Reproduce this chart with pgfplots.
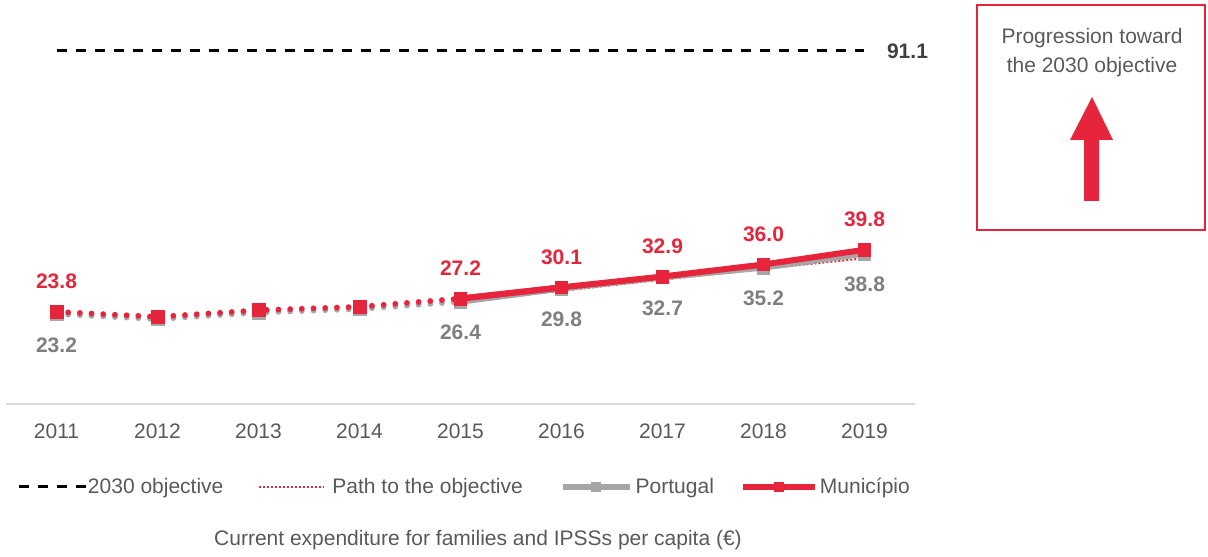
\documentclass[border=0pt]{standalone}
\usepackage{pgfplots}
\pgfplotsset{compat=1.18}
\usepackage{fontspec}
\setmainfont{Liberation Sans}
\definecolor{mred}{RGB}{230,36,60}
\definecolor{pgray}{RGB}{166,166,166}
\definecolor{lgray}{RGB}{127,127,127}
\definecolor{tgray}{RGB}{89,89,89}
\definecolor{dgray}{RGB}{64,64,64}
\newcommand{\fs}{\fontsize{10.5}{12.6}\selectfont}
\begin{document}
\begin{tikzpicture}
\begin{scope}[x=0.5pt,y=-0.5pt,yshift=278pt]
\useasboundingbox (0,0) rectangle (1208,556);
\draw[mred, line width=0.75pt] (977,5) rectangle (1205,230);
\node[text=tgray, font=\fontsize{10.5}{14.5}\selectfont, align=center] at (1092,53) {Progression toward\\the 2030 objective};
\fill[mred] (1092,97) -- (1113,140) -- (1099,140) -- (1099,201) -- (1084,201) -- (1084,140) -- (1070,140) -- cycle;
\node[text=tgray, font=\fs] at (478,540) {Current expenditure for families and IPSSs per capita (€)};
\end{scope}
\begin{axis}[
  at={(3pt,76pt)}, anchor=south west,
  scale only axis, width=454.5pt, height=193.75pt,
  xmin=2010.5, xmax=2019.5, ymin=0, ymax=100,
  enlargelimits=false, clip=false,
  axis x line=bottom, axis y line=none,
  x axis line style={-, draw=gray!30, line width=1pt},
  xtick={2011,2012,2013,2014,2015,2016,2017,2018,2019},
  xticklabels={2011,2012,2013,2014,2015,2016,2017,2018,2019},
  major tick length=0pt, xtick style={draw=none},
  xticklabel style={font=\fs, text=tgray, yshift=-6.5pt},
  legend columns=4,
  legend style={at={(axis description cs:0.0132,-0.214)}, anchor=west,
    draw=none, fill=none, inner sep=0pt, outer sep=0pt,
    nodes={inner sep=0pt, font=\fs, text=tgray},
    /tikz/every even column/.append style={column sep=0pt},
    /tikz/every odd column/.append style={column sep=0pt}},
]
% 2030 objective
\addplot[black, line width=1.5pt, dash pattern=on 5pt off 4.5pt, mark=none,
  legend image code/.code={\draw[black, line width=1.5pt, dash pattern=on 5pt off 4.5pt] (0pt,0pt) -- (33.5pt,0pt);}]
  coordinates {(2011,91.1) (2019,91.1)};
\addlegendentry{2030 objective\hspace*{17.5pt}}
% Path to the objective
\addplot[mred, line width=1pt, dash pattern=on 1pt off 1pt, mark=none,
  legend image code/.code={\draw[mred, line width=1pt, dash pattern=on 1pt off 1pt] (0pt,0pt) -- (32.5pt,0pt);}]
  coordinates {(2015,26.4) (2016,29.2) (2017,32.1) (2018,34.9) (2019,37.6)};
\addlegendentry{\hspace*{3.5pt}Path to the objective\hspace*{18.5pt}}
% Portugal
\addplot[pgray, line width=3pt, mark=square*, mark size=3.2pt, mark options={solid, fill=pgray, line width=0.4pt},
  legend image code/.code={\draw[pgray, line width=3pt] (0pt,0pt) -- (33.5pt,0pt);
     \draw[pgray, fill=pgray, line width=0.4pt, mark=square*, mark size=2.3pt, mark repeat=1] plot coordinates {(16.75pt,0pt)};}]
  coordinates {(2015,26.4) (2016,29.8) (2017,32.7) (2018,35.2) (2019,38.8)};
\addlegendentry{\hspace*{1.5pt}Portugal\hspace*{13pt}}
\addplot[pgray, line width=2.9pt, line cap=round, dash pattern=on 0pt off 5.85pt, mark=square*, mark size=3.2pt, mark options={solid, fill=pgray, line width=0.4pt}, forget plot]
  coordinates {(2011,23.2) (2012,21.9) (2013,23.6) (2014,24.5) (2015,26.4)};
% Municipio
\addplot[mred, line width=3pt, mark=square*, mark size=3.2pt, mark options={solid, fill=mred, line width=0.4pt},
  legend image code/.code={\draw[mred, line width=3pt] (0pt,0pt) -- (36pt,0pt);
     \draw[mred, fill=mred, line width=0.4pt, mark=square*, mark size=2.3pt, mark repeat=1] plot coordinates {(18pt,0pt)};}]
  coordinates {(2015,27.2) (2016,30.1) (2017,32.9) (2018,36.0) (2019,39.8)};
\addlegendentry{\hspace*{1pt}Município}
\addplot[mred, line width=2.9pt, line cap=round, dash pattern=on 0pt off 5.85pt, mark=square*, mark size=3.2pt, mark options={solid, fill=mred, line width=0.4pt}, forget plot]
  coordinates {(2011,23.8) (2012,22.5) (2013,24.2) (2014,25.1) (2015,27.2)};
\addplot[mred, line width=3pt, mark=square*, mark size=3.2pt, mark options={solid, fill=mred, line width=0.4pt}, forget plot]
  coordinates {(2015,27.2) (2016,30.1)};
% labels
\addplot[draw=none, mark=none, forget plot, point meta=explicit symbolic,
  nodes near coords, nodes near coords style={text=mred, font=\fs\bfseries, anchor=center, yshift=15pt}]
  coordinates {(2011,23.8)[23.8] (2015,27.2)[27.2] (2016,30.1)[30.1] (2017,32.9)[32.9] (2018,36.0)[36.0] (2019,39.8)[39.8]};
\addplot[draw=none, mark=none, forget plot, point meta=explicit symbolic,
  nodes near coords, nodes near coords style={text=lgray, font=\fs\bfseries, anchor=center, yshift=-15.5pt}]
  coordinates {(2011,23.2)[23.2] (2015,26.4)[26.4] (2016,29.8)[29.8] (2017,32.7)[32.7] (2018,35.2)[35.2] (2019,38.8)[38.8]};
\addplot[draw=none, mark=none, forget plot, point meta=explicit symbolic,
  nodes near coords, nodes near coords style={text=dgray, font=\fs\bfseries, anchor=center, xshift=21.5pt}]
  coordinates {(2019,91.1)[91.1]};
\end{axis}
\end{tikzpicture}
\end{document}
